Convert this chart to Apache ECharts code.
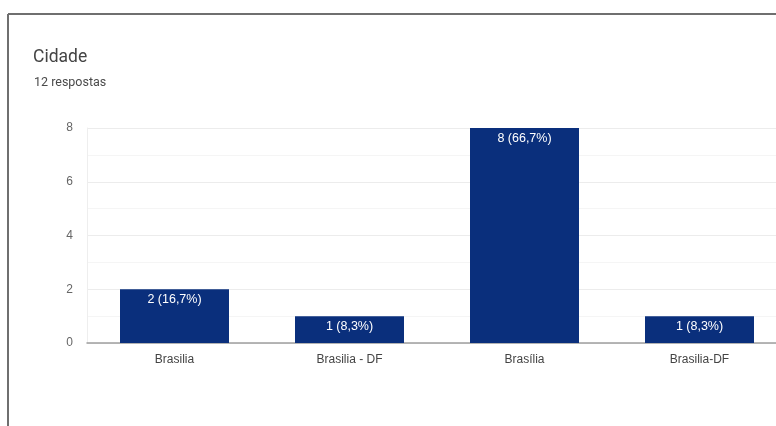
<!DOCTYPE html>
<html>
<head>
<meta charset="utf-8">
<script src="https://cdn.jsdelivr.net/npm/echarts@6/dist/echarts.min.js"></script>
<style>
  html, body { margin: 0; padding: 0; background: #fff; overflow: hidden; width: 776px; height: 426px; }
  /* the card is wider than the window; its right part is cut off */
  #chart { width: 800px; height: 426px; }
</style>
</head>
<body>
<div id="chart"></div>
<script>
// Responses to the "Cidade" question
const categories = ['Brasilia', 'Brasilia - DF', 'Brasília', 'Brasilia-DF'];
const counts = [2, 1, 8, 1];
const percents = ['16,7%', '8,3%', '66,7%', '8,3%'];
const totalResponses = 12;
const yTicks = [0, 2, 4, 6, 8];

const chartFont = '"Liberation Sans", Arial, sans-serif';
const chart = echarts.init(document.getElementById('chart'), null, { renderer: 'canvas' });

chart.setOption({
  animation: false,
  backgroundColor: '#ffffff',
  textStyle: { fontFamily: chartFont },
  graphic: [
    // card outline
    { type: 'line', shape: { x1: 8, y1: 14, x2: 800, y2: 14 }, style: { stroke: '#6f6f6f', lineWidth: 2 } },
    { type: 'line', shape: { x1: 8, y1: 14, x2: 8, y2: 426 }, style: { stroke: '#6f6f6f', lineWidth: 2 } },
    { type: 'text', left: 33, top: 49, style: { text: 'Cidade', fill: '#444', font: '17.5px Roboto, Arial, sans-serif' } },
    { type: 'text', left: 34, top: 76, style: { text: totalResponses + ' respostas', fill: '#4a4a4a', font: '12.5px Roboto, Arial, sans-serif' } }
  ],
  grid: { left: 87, top: 128, width: 700, height: 215, containLabel: false },
  xAxis: {
    type: 'category',
    data: categories,
    axisLine: { show: true, lineStyle: { color: '#9e9e9e', width: 1.5 } },
    axisTick: { show: false },
    axisLabel: { color: '#444', fontSize: 12, margin: 11 }
  },
  yAxis: {
    type: 'value',
    min: yTicks[0],
    max: yTicks[yTicks.length - 1],
    interval: 2,
    axisLine: { show: true, lineStyle: { color: '#eeeeee', width: 1 } },
    axisTick: { show: false },
    axisLabel: { color: '#666', fontSize: 12, margin: 14 },
    splitLine: { show: true, lineStyle: { color: '#ececec', width: 1 } },
    minorTick: { show: false, splitNumber: 2 },
    minorSplitLine: { show: true, lineStyle: { color: '#f5f5f5', width: 1 } }
  },
  series: [{
    type: 'bar',
    data: counts,
    barWidth: 109,
    itemStyle: { color: '#0a2f7c' },
    label: {
      show: true,
      position: 'insideTop',
      distance: 4,
      color: '#ffffff',
      fontSize: 12.5,
      formatter: p => p.value + ' (' + percents[p.dataIndex] + ')'
    }
  }]
});
</script>
</body>
</html>
